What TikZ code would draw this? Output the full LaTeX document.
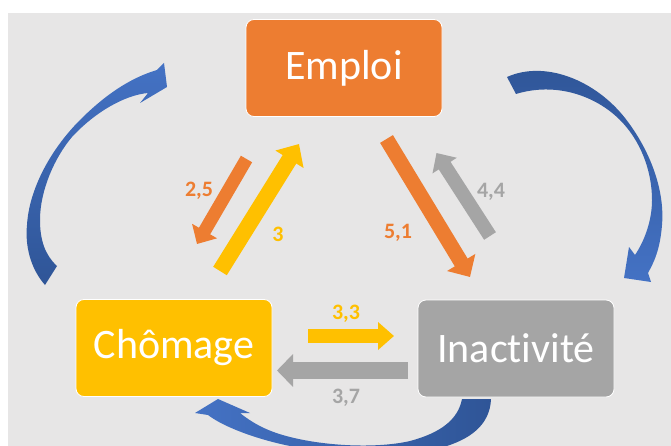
\documentclass[tikz,border=0pt]{standalone}
\usepackage{fontspec}
\setmainfont{Carlito}[Ligatures=CommonOff]
\usetikzlibrary{arrows.meta}
\definecolor{cOrange}{HTML}{ED7D31}
\definecolor{cYellow}{HTML}{FFC000}
\definecolor{cGray}{HTML}{A5A5A5}
\definecolor{cBlueL}{HTML}{4472C4}
\definecolor{cBlueD}{HTML}{2F5597}
\definecolor{cBg}{HTML}{E7E6E6}
\begin{document}
\begin{tikzpicture}[x=1pt,y=-1pt,
  box/.style={rounded corners=8pt, draw=white, line width=0.8pt,
    minimum width=196pt, minimum height=97pt, inner sep=0pt,
    text=white, font=\fontsize{42}{50}\selectfont},
  lbl/.style={font=\bfseries\fontsize{22}{26}\selectfont, inner sep=0pt},
  flow/.style n args={4}{draw=#1, line width=#2,
    -{Triangle[length=#3, width=#4]}},
  curved/.style={draw=none}
]
\useasboundingbox (0,0) rectangle (671,446);
\clip (0,0) rectangle (671,446);
\fill[white] (0,0) rectangle (671,446);
\fill[cBg] (8,13) rectangle (671,446);

% boxes
\node[box, fill=cOrange] (emploi) at (344,68) {Emploi};
\node[box, fill=cYellow] (chomage) at (174,348) {Chômage};
\node[box, fill=cGray] (inact) at (516,348.5) {Inactivité};

% straight flows
\coordinate (a1s) at (246.5,159); \coordinate (a1e) at (197,244);
\coordinate (a2s) at (220,271);   \coordinate (a2e) at (299,144);
\coordinate (a3s) at (386.5,139); \coordinate (a3e) at (470,277);
\coordinate (a4s) at (490,236);   \coordinate (a4e) at (436.5,153);
\coordinate (a5s) at (308,336);   \coordinate (a5e) at (394,336);
\coordinate (a6s) at (408,370.5); \coordinate (a6e) at (277,370.5);

\draw[flow={cOrange}{13pt}{15pt}{28pt}] (a1s) -- (a1e);
\draw[flow={cYellow}{16pt}{18pt}{32pt}] (a2s) -- (a2e);
\draw[flow={cOrange}{15pt}{17pt}{32pt}] (a3s) -- (a3e);
\draw[flow={cGray}{14pt}{15pt}{28pt}] (a4s) -- (a4e);
\draw[flow={cYellow}{14pt}{16pt}{27pt}] (a5s) -- (a5e);
\draw[flow={cGray}{17pt}{16pt}{32pt}] (a6s) -- (a6e);

% labels
\node[lbl, text=cOrange] (l25) at (199,191) {2,5};
\node[lbl, text=cYellow] (l3)  at (278,234) {3};
\node[lbl, text=cOrange] (l51) at (398,233) {5,1};
\node[lbl, text=cGray]   (l44) at (491,192) {4,4};
\node[lbl, text=cYellow] (l33) at (346,314) {3,3};
\node[lbl, text=cGray]   (l37) at (346,398) {3,7};

% curved arrows
\shade[curved, top color=cBlueL, bottom color=cBlueD]
  (45,285) .. controls (30,268) and (25,245) .. (27,225)
  .. controls (29,190) and (50,150) .. (80,120)
  .. controls (105,95) and (130,78) .. (157,70)
  -- (164,63) -- (167,87) -- (140,103) -- (148,93)
  .. controls (125,95) and (95,112) .. (72,137)
  .. controls (55,157) and (40,190) .. (40,220)
  .. controls (40,240) and (45,255) .. (57,266) -- cycle;

\shade[curved, top color=cBlueD, bottom color=cBlueL]
  (507,77) .. controls (545,60) and (595,80) .. (625,118)
  .. controls (650,150) and (665,190) .. (662,225)
  .. controls (660,250) and (654,262) .. (648,273)
  -- (651,282) -- (624,278) -- (629,247) -- (635,255)
  .. controls (645,240) and (652,220) .. (652,200)
  .. controls (652,170) and (640,140) .. (620,120)
  .. controls (595,95) and (555,82) .. (516,94) -- cycle;

\shade[curved, left color=cBlueL, right color=cBlueD]
  (491,399) .. controls (490,425) and (470,440) .. (440,448)
  .. controls (400,458) and (320,456) .. (290,446)
  .. controls (260,440) and (225,428) .. (208,415)
  -- (195,413) -- (218,399) -- (250,413) -- (240,413)
  .. controls (255,425) and (270,432) .. (290,437)
  .. controls (330,447) and (380,448) .. (410,441)
  .. controls (440,433) and (458,420) .. (462,399) -- cycle;
\end{tikzpicture}
\end{document}
